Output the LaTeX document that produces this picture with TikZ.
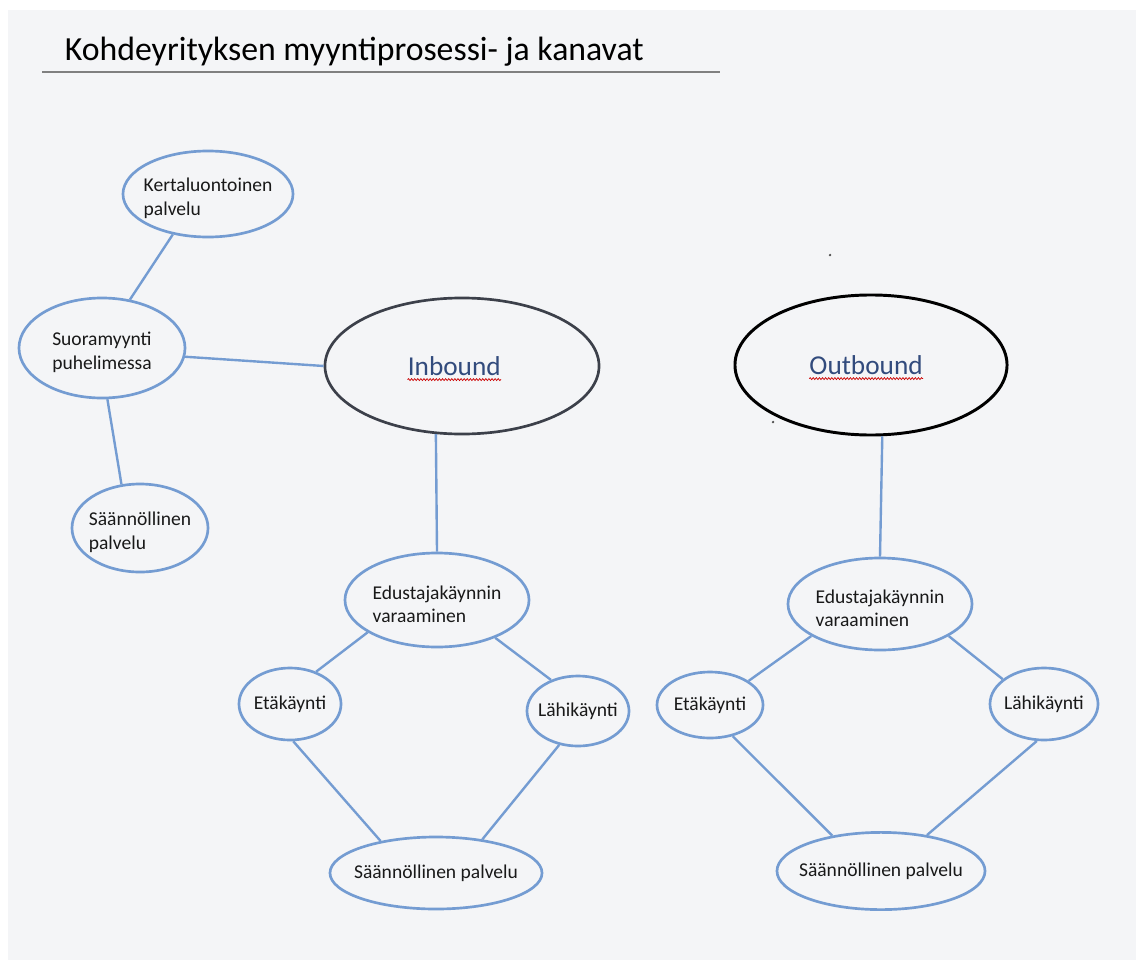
\documentclass[tikz,border=0pt]{standalone}
\usepackage{fontspec}
\setmainfont{Carlito}
\usepackage{tikz}
\usetikzlibrary{shapes.geometric}
\usetikzlibrary{decorations.pathmorphing}
\usepackage{xcolor}
\definecolor{bubbleblue}{RGB}{116,156,210}
\definecolor{pagegray}{RGB}{244,245,247}
\definecolor{headblue}{RGB}{50,75,125}
\definecolor{rulegray}{RGB}{128,128,128}
\definecolor{rimgray}{RGB}{60,64,74}

\begin{document}
\begin{tikzpicture}[x=0.025cm,y=-0.025cm,
  bubble/.style={ellipse,draw=bubbleblue,line width=1.9pt,inner sep=0pt},
  big/.style={ellipse,line width=1.9pt,inner sep=0pt},
  bigtxt/.style={inner sep=0pt,font=\fontsize{19.4}{23}\selectfont,text=headblue},
  txt/.style={align=left,font=\fontsize{13.9}{16.5}\selectfont,text=black!90},
  twoline/.style={txt,yshift=-3pt},
  link/.style={draw=bubbleblue,line width=1.7pt},
  squiggle/.style={draw=red!80!black,line width=0.5pt,decorate,decoration={snake,amplitude=0.7pt,segment length=2.2pt}}]
   \useasboundingbox (0,0) rectangle (1141,965);
   \fill[pagegray] (8,10) rectangle (1136,960);
   \node[anchor=base west,font=\fontsize{24}{28}\selectfont] (title) at (60,61) {Kohdeyrityksen myyntiprosessi- ja kanavat};
   \draw[rulegray,line width=1.8pt] (42,72) -- (720,72);
   % puhelinmyynti
   \node[bubble,minimum width=4.25cm,minimum height=2.15cm,label={[twoline]center:Kertaluontoinen\\palvelu}] (kerta) at (208,194) {};
   \node[bubble,minimum width=4.15cm,minimum height=2.5cm,label={[twoline]center:Suoramyynti\\puhelimessa}] (suora) at (102,348) {};
   \node[bubble,minimum width=3.4cm,minimum height=2.2cm,label={[twoline]center:Säännöllinen\\palvelu}] (saanl) at (140,528) {};
   % inbound
   \node[big,draw=rimgray,minimum width=6.85cm,minimum height=3.4cm,label={[bigtxt,xshift=-5.5pt,name=inbtxt]center:Inbound}] (inb) at (462,366) {};
   \node[bubble,minimum width=4.6cm,minimum height=2.35cm,label={[twoline]center:Edustajakäynnin\\varaaminen}] (inedu) at (437,600) {};
   \node[bubble,minimum width=2.55cm,minimum height=1.8cm,label={[txt]center:Etäkäynti}] (ineta) at (290,704) {};
   \node[bubble,minimum width=2.55cm,minimum height=1.75cm,label={[txt]center:Lähikäynti}] (inlahi) at (578,711) {};
   \node[bubble,minimum width=5.3cm,minimum height=1.8cm,label={[txt]center:Säännöllinen palvelu}] (insaan) at (436,873) {};
   % outbound
   \node[big,draw=black,line width=2.1pt,minimum width=6.8cm,minimum height=3.5cm,label={[bigtxt,xshift=-3.5pt,name=outbtxt]center:Outbound}] (outb) at (871,365) {};
   \node[bubble,minimum width=4.6cm,minimum height=2.3cm,label={[twoline]center:Edustajakäynnin\\varaaminen}] (outedu) at (880,604) {};
   \node[bubble,minimum width=2.65cm,minimum height=1.65cm,label={[txt]center:Etäkäynti}] (outeta) at (710,705) {};
   \node[bubble,minimum width=2.7cm,minimum height=1.8cm,label={[txt]center:Lähikäynti}] (outlahi) at (1044,704) {};
   \node[bubble,minimum width=5.2cm,minimum height=1.93cm,label={[txt]center:Säännöllinen palvelu}] (outsaan) at (881,871) {};
   % oikeinkirjoitusviivat
   \path[squiggle] ([yshift=-3pt]inbtxt.base west) -- ([yshift=-3pt]inbtxt.base east);
   \path[squiggle] ([yshift=-3pt]outbtxt.base west) -- ([yshift=-3pt]outbtxt.base east);
   \fill[black!70] (830,255) circle (0.9pt);
   \fill[black!70] (773,422) circle (0.9pt);
    \path[link]
    (kerta.229) edge (suora.60)
    (suora.354) edge (inb.west)
    (suora.276) edge (saanl.113)
    (inb.249) edge (inedu.north)
    (inedu.205) edge (ineta.51)
    (inedu.327) edge (inlahi.131)
    (ineta.275) edge (insaan.150)
    (inlahi.241) edge (insaan.36)
    (outb.279) edge (outedu.north)
    (outedu.205) edge (outeta.32)
    (outedu.335) edge (outlahi.149)
    (outeta.306) edge (outsaan.144)
    (outlahi.259) edge (outsaan.38);
\end{tikzpicture}
\end{document}
